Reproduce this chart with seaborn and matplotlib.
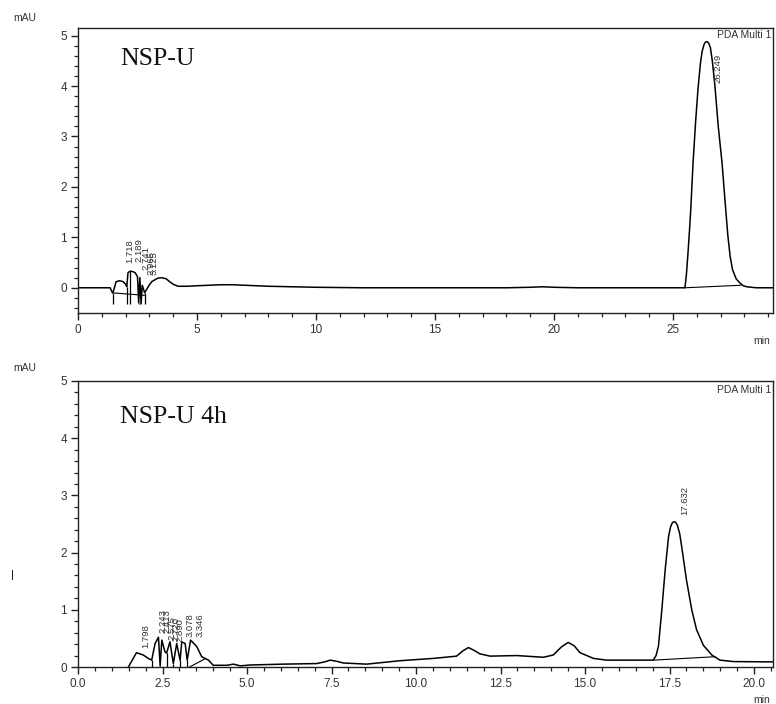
import numpy as np
import pandas as pd
import matplotlib
matplotlib.use("Agg")
import matplotlib.pyplot as plt
from matplotlib.ticker import MultipleLocator
import seaborn as sns

# ---------------- data ----------------
top_t = [0.0, 0.5, 1.0, 1.35, 1.45, 1.5, 1.6, 1.75, 1.9, 2.0, 2.05, 2.1, 2.2, 2.3, 2.4, 2.5,
         2.55, 2.6, 2.65, 2.7, 2.8, 2.9, 3.0, 3.1, 3.2, 3.35, 3.5, 3.7, 3.85, 4.0, 4.2, 4.6,
         5.0, 5.5, 6.0, 6.5, 7.0, 7.5, 8.0, 9.0, 10.0, 12.0, 14.0, 16.0, 18.0, 19.0, 19.5,
         20.0, 21.0, 23.0, 25.0, 25.5, 25.56, 25.63, 25.7, 25.75, 25.84, 25.95, 26.05, 26.15,
         26.22, 26.3, 26.36, 26.43, 26.5, 26.57, 26.65, 26.76, 26.9, 27.06, 27.18, 27.3, 27.4,
         27.5, 27.65, 27.8, 27.95, 28.1, 28.5, 29.2]
top_v = [0.0, 0.0, 0.0, 0.0, -0.1, -0.05, 0.12, 0.14, 0.12, 0.07, 0.02, 0.3, 0.33, 0.32, 0.3, 0.22,
         -0.3, 0.2, -0.32, 0.05, -0.1, -0.02, 0.06, 0.12, 0.15, 0.19, 0.2, 0.18, 0.12, 0.07, 0.03, 0.03,
         0.04, 0.05, 0.06, 0.06, 0.05, 0.04, 0.03, 0.02, 0.01, 0.0, 0.0, 0.0, 0.0, 0.01, 0.02,
         0.01, 0.0, 0.0, 0.0, 0.0, 0.25, 0.7, 1.2, 1.6, 2.47, 3.3, 3.95, 4.45,
         4.68, 4.82, 4.87, 4.88, 4.85, 4.76, 4.5, 4.0, 3.2, 2.47, 1.75, 1.05, 0.62,
         0.36, 0.18, 0.1, 0.04, 0.02, 0.0, 0.0]

bot_t = [1.49, 1.73, 1.93, 2.08, 2.18, 2.28, 2.38, 2.43, 2.48, 2.57, 2.62, 2.72, 2.82, 2.92,
         3.02, 3.07, 3.17, 3.23, 3.33, 3.51, 3.66, 3.86, 4.0, 4.4, 4.6, 4.8, 5.09, 6.07, 7.06,
         7.3, 7.46, 7.65, 7.85, 8.54, 9.53, 10.51, 11.2, 11.38, 11.55, 11.72, 11.89, 12.19, 12.98,
         13.77, 14.06, 14.3, 14.5, 14.68, 14.85, 15.25, 15.64, 16.92, 17.02, 17.1, 17.17, 17.27,
         17.37, 17.47, 17.53, 17.58, 17.63, 17.68, 17.73, 17.8, 17.86, 18.0, 18.16, 18.3, 18.5,
         18.75, 18.99, 19.39, 20.37, 20.56]
bot_v = [0.0, 0.25, 0.21, 0.15, 0.12, 0.41, 0.52, 0.02, 0.47, 0.27, 0.24, 0.44, 0.06, 0.41,
         0.12, 0.44, 0.41, 0.12, 0.47, 0.36, 0.18, 0.12, 0.03, 0.03, 0.05, 0.02, 0.035, 0.05, 0.06,
         0.09, 0.12, 0.1, 0.07, 0.05, 0.11, 0.15, 0.19, 0.28, 0.34, 0.29, 0.23, 0.19, 0.2,
         0.17, 0.21, 0.35, 0.43, 0.37, 0.25, 0.15, 0.12, 0.12, 0.12, 0.2, 0.36, 0.99,
         1.7, 2.28, 2.45, 2.52, 2.54, 2.53, 2.48, 2.33, 2.1, 1.52, 0.99, 0.65, 0.38,
         0.21, 0.12, 0.095, 0.09, 0.09]

# peak annotations (time position of label, label bottom value, text)
top_lab_t = [2.16, 2.58, 2.86, 3.05, 3.19, 26.89]
top_lab_v = [0.49, 0.51, 0.36, 0.26, 0.26, 4.05]
top_lab_s = ["1.718", "2.189", "2.741", "2.965", "3.125", "26.249"]

bot_lab_t = [2.01, 2.52, 2.64, 2.77, 2.9, 3.02, 3.31, 3.61, 17.96]
bot_lab_v = [0.33, 0.59, 0.59, 0.47, 0.45, 0.43, 0.53, 0.53, 2.66]
bot_lab_s = ["1.798", "2.243", "2.413", "2.575", "2.720", "2.890", "3.078", "3.346", "17.632"]

# perpendicular drop lines (time, bottom value)
top_drop_t = [1.45, 2.05, 2.2, 2.55, 2.65, 2.8]
bot_drop_t = [2.18, 2.43, 2.62, 2.82, 3.02, 3.23]
# integration baselines (t0, v0, t1, v1)
top_base = [(1.45, -0.1, 2.8, -0.15), (25.5, 0.0, 27.85, 0.05)]
bot_base = [(3.3, 0.0, 3.75, 0.14), (17.02, 0.12, 18.85, 0.18)]

titles = ["NSP-U", "NSP-U 4h"]

# ---------------- figure ----------------
sns.set_theme(style="white")
plt.rcParams['font.family'] = ['Liberation Sans', 'DejaVu Sans']

W, H = 776, 704
fig = plt.figure(figsize=(W / 100, H / 100), dpi=100)

def ax_rect(l, t, r, b):
    return [l / W, 1 - b / H, (r - l) / W, (b - t) / H]

ax1 = fig.add_axes(ax_rect(78, 28, 773, 313))
ax2 = fig.add_axes(ax_rect(78, 381, 773, 667))

tick_col = "#333333"
line_kw = dict(color="black", linewidth=1.1)

def style(ax, xlim, ylim, xmaj, xmin, fmt):
    ax.set_xlim(*xlim)
    ax.set_ylim(*ylim)
    ax.xaxis.set_major_locator(MultipleLocator(xmaj))
    ax.xaxis.set_minor_locator(MultipleLocator(xmin))
    ax.yaxis.set_major_locator(MultipleLocator(1))
    ax.yaxis.set_minor_locator(MultipleLocator(0.2))
    ax.xaxis.set_major_formatter(matplotlib.ticker.FormatStrFormatter(fmt))
    ax.tick_params(axis="both", which="major", direction="out", length=5, width=1,
                   labelsize=8.5, labelcolor=tick_col, color="#222222", pad=3,
                   bottom=True, left=True)
    ax.tick_params(axis="both", which="minor", direction="out", length=3, width=0.9,
                   color="#222222", bottom=True, left=True)
    for s in ax.spines.values():
        s.set_color("#222222")
        s.set_linewidth(1.0)
    ax.set_xlabel("")
    ax.set_ylabel("")
    ax.grid(False)

# top panel
df1 = pd.DataFrame({"t": top_t, "v": top_v})
sns.lineplot(data=df1, x="t", y="v", ax=ax1, estimator=None, sort=False, **line_kw)
tv = np.interp(top_drop_t, top_t, top_v)
ax1.vlines(top_drop_t, -0.33, tv, color="black", linewidth=0.9)
for (a, b, c, d) in top_base:
    ax1.plot([a, c], [b, d], color="black", linewidth=0.8)
for t, v, s in zip(top_lab_t, top_lab_v, top_lab_s):
    ax1.text(t, v, s, rotation=90, ha="center", va="bottom", fontsize=6.8, color="#333333")
style(ax1, (0, 29.2), (-0.5, 5.15), 5, 1, "%d")
ax1.text(0.997, 0.993, "PDA Multi 1", transform=ax1.transAxes, ha="right", va="top",
         fontsize=7.5, color="#333333")
ax1.text(42 / 695, 0.89, titles[0], transform=ax1.transAxes, ha="left", va="center",
         fontsize=18.5, family="Liberation Serif", color="#111111")

# bottom panel
df2 = pd.DataFrame({"t": bot_t, "v": bot_v})
sns.lineplot(data=df2, x="t", y="v", ax=ax2, estimator=None, sort=False, **line_kw)
bv = np.interp(bot_drop_t, bot_t, bot_v)
ax2.vlines(bot_drop_t, 0, bv, color="black", linewidth=0.9)
for (a, b, c, d) in bot_base:
    ax2.plot([a, c], [b, d], color="black", linewidth=0.8)
for t, v, s in zip(bot_lab_t, bot_lab_v, bot_lab_s):
    ax2.text(t, v, s, rotation=90, ha="center", va="bottom", fontsize=6.8, color="#333333")
style(ax2, (0, 20.56), (0, 5.0), 2.5, 0.5, "%.1f")
ax2.text(0.997, 0.985, "PDA Multi 1", transform=ax2.transAxes, ha="right", va="top",
         fontsize=7.5, color="#333333")
ax2.text(42 / 695, 0.875, titles[1], transform=ax2.transAxes, ha="left", va="center",
         fontsize=18.5, family="Liberation Serif", color="#111111")

# axis unit labels
fig.text(25 / W, 1 - 18 / H, "mAU", ha="center", va="center", fontsize=7.5, color="#333333")
fig.text(25 / W, 1 - 368 / H, "mAU", ha="center", va="center", fontsize=7.5, color="#333333")
fig.text(762 / W, 1 - 341 / H, "min", ha="center", va="center", fontsize=7.5, color="#333333")
fig.text(762 / W, 1 - 700 / H, "min", ha="center", va="center", fontsize=7.5, color="#333333")
fig.text(12 / W, 1 - 575 / H, "|", ha="center", va="center", fontsize=8, color="black")

fig.savefig("out.png", dpi=100)
